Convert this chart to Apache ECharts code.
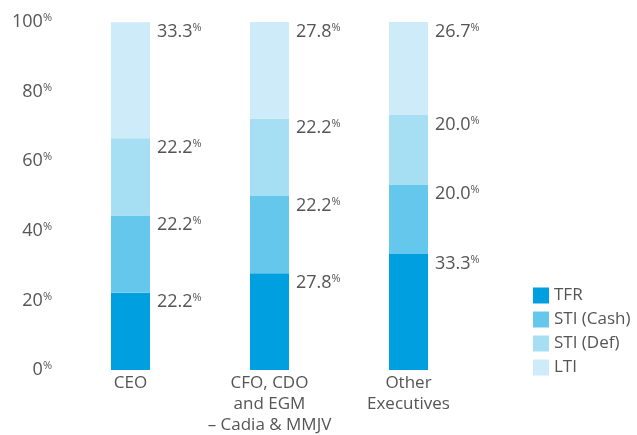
<!DOCTYPE html>
<html>
<head>
<meta charset="utf-8">
<script src="https://cdn.jsdelivr.net/npm/echarts@6/dist/echarts.min.js"></script>
<style>
html,body{margin:0;padding:0;background:#fff;}
#chart{width:637px;height:435px;}
</style>
</head>
<body>
<div id="chart"></div>
<script>
var categories = ['CEO', 'CFO, CDO\nand EGM\n– Cadia & MMJV', 'Other\nExecutives'];
var tfr = [22.2, 27.8, 33.3];
var stiCash = [22.2, 22.2, 20.0];
var stiDef = [22.2, 22.2, 20.0];
var lti = [33.3, 27.8, 26.7];
var seriesNames = ['TFR', 'STI (Cash)', 'STI (Def)', 'LTI'];
var colors = ['#009fdf', '#65c7ec', '#a6def3', '#cdebf8'];

var font = '"Open Sans", sans-serif';
var textColor = '#555';

function segLabel() {
    return {
        show: true,
        position: [46, 0],
        formatter: function (p) {
            return '{v|' + p.value.toFixed(1) + '}{p|%}';
        },
        rich: {
            v: { fontSize: 18, fontFamily: font, color: textColor },
            p: { fontSize: 11, fontFamily: font, color: textColor, padding: [0, 0, 8, 0] }
        }
    };
}

var chart = echarts.init(document.getElementById('chart'));
var seriesData = [tfr, stiCash, stiDef, lti];
var series = [];
for (var i = 0; i < seriesData.length; i++) {
    series.push({
        name: seriesNames[i],
        type: 'bar',
        stack: 'total',
        barWidth: 39,
        itemStyle: { color: colors[i] },
        label: segLabel(),
        data: seriesData[i]
    });
}

chart.setOption({
    animation: false,
    color: colors,
    grid: { left: 61, top: 22, width: 417, height: 348, outerBoundsMode: 'none', containLabel: false },
    legend: {
        orient: 'vertical',
        left: 528,
        top: 282,
        itemWidth: 16,
        itemHeight: 16,
        itemGap: 7,
        icon: 'rect',
        textStyle: { fontSize: 17, fontFamily: font, color: textColor },
        data: seriesNames
    },
    xAxis: {
        type: 'category',
        data: categories,
        axisLine: { show: false },
        axisTick: { show: false },
        axisLabel: {
            interval: 0,
            margin: 3,
            fontSize: 17,
            lineHeight: 21,
            fontFamily: font,
            color: textColor
        }
    },
    yAxis: {
        type: 'value',
        min: 0,
        max: 100,
        interval: 20,
        splitLine: { show: false },
        axisLine: { show: false },
        axisTick: { show: false },
        axisLabel: {
            margin: 9,
            formatter: '{v|{value}}{p|%}',
            rich: {
                v: { fontSize: 18, fontFamily: font, color: textColor },
                p: { fontSize: 11, fontFamily: font, color: textColor, padding: [0, 0, 8, 0] }
            }
        }
    },
    series: series
});
</script>
</body>
</html>
